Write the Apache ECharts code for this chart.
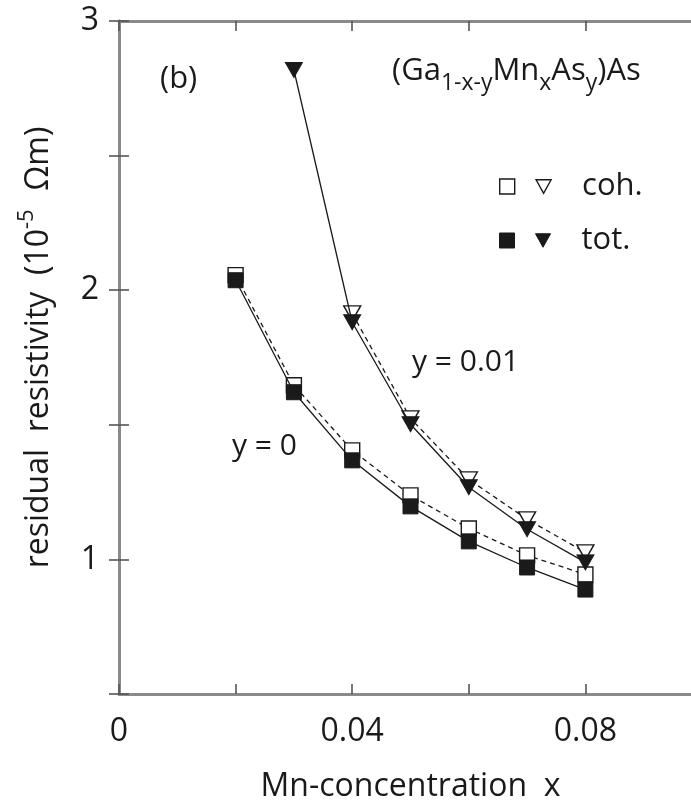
<!DOCTYPE html>
<html>
<head>
<meta charset="utf-8">
<script src="https://cdn.jsdelivr.net/npm/echarts@6/dist/echarts.min.js"></script>
<style>
  html, body { margin: 0; padding: 0; background: #fff; }
  #chart { width: 691px; height: 804px; }
</style>
</head>
<body>
<div id="chart"></div>
<script>
// Mn concentration x
const xVals = [0.02, 0.03, 0.04, 0.05, 0.06, 0.07, 0.08];
const xValsY1 = [0.03, 0.04, 0.05, 0.06, 0.07, 0.08];
const xValsY1coh = [0.04, 0.05, 0.06, 0.07, 0.08];

// residual resistivity (10^-5 Ohm m)
const cohY0 = [2.056, 1.647, 1.405, 1.238, 1.115, 1.015, 0.944];
const totY0 = [2.037, 1.621, 1.368, 1.197, 1.067, 0.970, 0.888];
const cohY1 = [1.914, 1.524, 1.297, 1.149, 1.026];
const totY1 = [2.818, 1.881, 1.502, 1.268, 1.112, 0.989];

const xTickLabels = ['0', '0.04', '0.08'];
const yTickLabels = ['1', '2', '3'];

const font = '"Open Sans", "Noto Sans", sans-serif';
const ink = '#1a1a1a';
const frameColor = '#8a8a8a';
const tri = 'path://M0,0 L10,0 L5,9 Z';

const pairs = (xs, ys) => xs.map((x, i) => [x, ys[i]]);

const chart = echarts.init(document.getElementById('chart'));

const tickStyle = { show: true, inside: true, length: 10, lineStyle: { color: '#555', width: 1.6 } };
const lineAxis = { show: true, lineStyle: { color: frameColor, width: 3 } };

const openStyle = { color: '#fff', borderColor: ink, borderWidth: 1.4 };
const fullStyle = { color: ink, borderColor: ink, borderWidth: 1 };

const option = {
    backgroundColor: '#fff',
    animation: false,
    textStyle: { fontFamily: font, color: ink },
    grid: { left: 119, top: 21, right: -11, bottom: 110, outerBoundsMode: 'none' },
    xAxis: [
        {
            type: 'value', min: 0, max: 0.1, interval: 0.02, position: 'bottom',
            axisLine: lineAxis, axisTick: tickStyle, splitLine: { show: false },
            axisLabel: {
                margin: 22, fontSize: 32, color: ink, fontFamily: font,
                formatter: v => {
                    const s = String(+v.toFixed(2));
                    return xTickLabels.includes(s) ? s : '';
                }
            },
            name: 'Mn-concentration  x', nameLocation: 'middle', nameGap: 77,
            nameTextStyle: { fontSize: 32, color: ink, fontFamily: font }
        },
        {
            type: 'value', min: 0, max: 0.1, interval: 0.02, position: 'top',
            axisLine: lineAxis, axisTick: tickStyle, axisLabel: { show: false }, splitLine: { show: false }
        }
    ],
    yAxis: [
        {
            type: 'value', min: 0.5, max: 3, interval: 0.5, position: 'left',
            axisLine: lineAxis, axisTick: tickStyle, splitLine: { show: false },
            axisLabel: {
                margin: 20, fontSize: 32, color: ink, fontFamily: font,
                formatter: v => {
                    const s = String(+v.toFixed(1));
                    return yTickLabels.includes(s) ? s : '';
                }
            },
            name: 'residual  resistivity  (10{sup|-5}  Ωm)', nameLocation: 'middle', nameGap: 57,
            nameTextStyle: {
                fontSize: 32, color: ink, fontFamily: font, padding: [0, 0, 0, 20],
                rich: { sup: { fontSize: 22, fontFamily: font, color: ink, padding: [0, 2, 24, 0] } }
            }
        },
        {
            type: 'value', min: 0.5, max: 3, interval: 0.5, position: 'right',
            axisLine: lineAxis, axisTick: tickStyle, axisLabel: { show: false }, splitLine: { show: false }
        }
    ],
    legend: [
        {
            left: 494, top: 166, itemWidth: 15, itemHeight: 15, itemGap: 20,
            selectedMode: false,
            data: [
                { name: 'coh y=0', icon: 'rect', itemStyle: openStyle },
                { name: 'coh y=0.01', icon: tri, itemStyle: openStyle }
            ],
            formatter: n => n === 'coh y=0.01' ? '{t|coh.}' : '',
            textStyle: { rich: { t: { fontSize: 31, fontFamily: font, color: ink, padding: [0, 0, 0, 26] } } }
        },
        {
            left: 494, top: 220, itemWidth: 15, itemHeight: 15, itemGap: 20,
            selectedMode: false,
            data: [
                { name: 'tot y=0', icon: 'rect', itemStyle: fullStyle },
                { name: 'tot y=0.01', icon: tri, itemStyle: fullStyle }
            ],
            formatter: n => n === 'tot y=0.01' ? '{t|tot.}' : '',
            textStyle: { rich: { t: { fontSize: 31, fontFamily: font, color: ink, padding: [0, 0, 0, 26] } } }
        }
    ],
    graphic: [
        { type: 'text', left: 160, top: 64, style: { text: '(b)', fontSize: 31, fontFamily: font, fill: ink } },
        {
            type: 'text', left: 392, top: 56,
            style: {
                text: '(Ga{s|1-x-y}Mn{s|x}As{s|y})As',
                fontSize: 31, fontFamily: font, fill: ink,
                rich: { s: { fontSize: 23, fontFamily: font, fill: ink, padding: [24, 0, 0, 0] } }
            }
        },
        { type: 'text', left: 412, top: 347, style: { text: 'y = 0.01', fontSize: 30, fontFamily: font, fill: ink } },
        { type: 'text', left: 232, top: 431, style: { text: 'y = 0', fontSize: 30, fontFamily: font, fill: ink } }
    ],
    series: [
        {
            name: 'coh y=0', type: 'line', data: pairs(xVals, cohY0),
            symbol: 'rect', symbolSize: 15, itemStyle: openStyle,
            lineStyle: { color: ink, width: 1.3, type: [5, 4] }, z: 2
        },
        {
            name: 'coh y=0.01', type: 'line', data: pairs(xValsY1coh, cohY1),
            symbol: tri, symbolSize: [17, 15], itemStyle: openStyle,
            lineStyle: { color: ink, width: 1.3, type: [5, 4] }, z: 2
        },
        {
            name: 'tot y=0', type: 'line', data: pairs(xVals, totY0),
            symbol: 'rect', symbolSize: 15, itemStyle: fullStyle,
            lineStyle: { color: ink, width: 1.3 }, z: 3
        },
        {
            name: 'tot y=0.01', type: 'line', data: pairs(xValsY1, totY1),
            symbol: tri, symbolSize: [17, 15], itemStyle: fullStyle,
            lineStyle: { color: ink, width: 1.3 }, z: 3
        }
    ]
};

chart.setOption(option);
</script>
</body>
</html>
